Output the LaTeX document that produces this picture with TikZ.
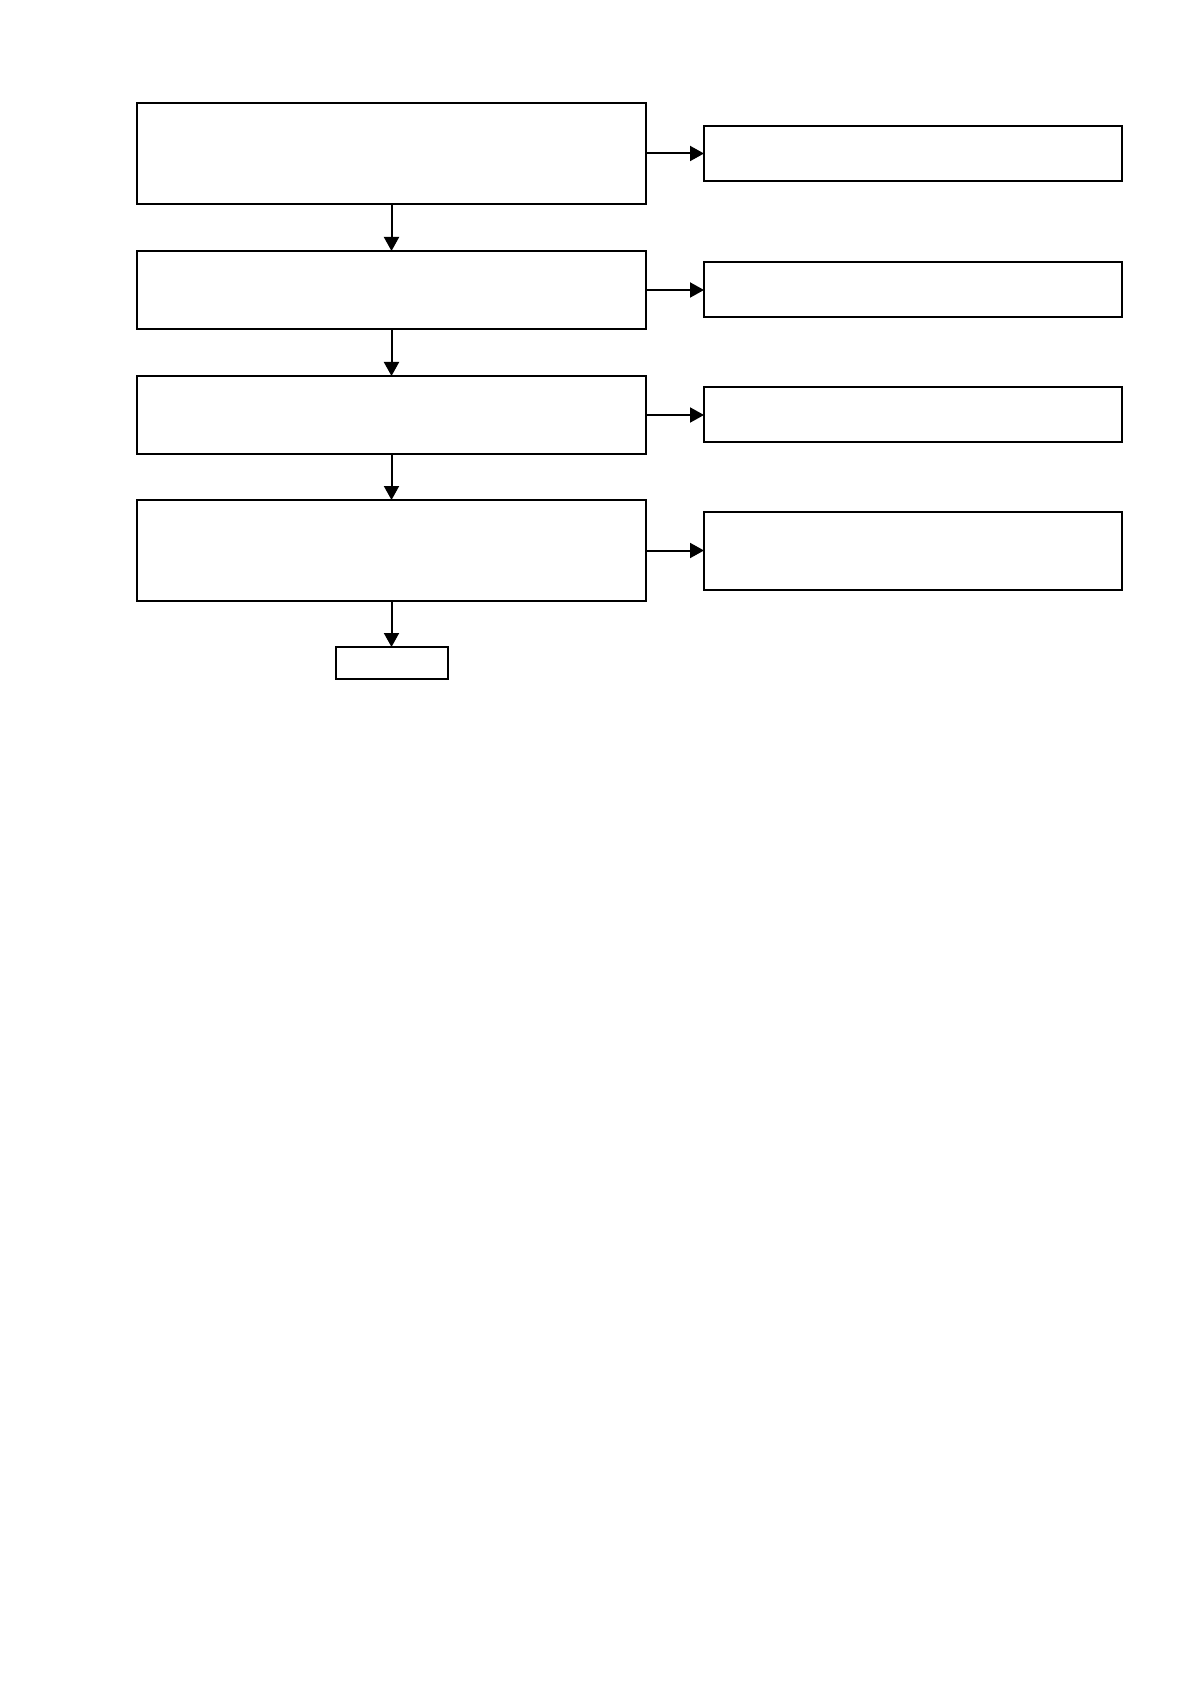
\documentclass[tikz,border=0pt]{standalone}
\usetikzlibrary{arrows.meta}
\begin{document}
\begin{tikzpicture}[x=0.5pt,y=-0.5pt,
  box/.style={draw=black,line width=1pt,rectangle,inner sep=0pt,outer sep=0pt,fill=white},
  mainbox/.style={box,minimum width=254.5pt},
  sidebox/.style={box,minimum width=209pt},
  flow/.style={draw=black,line width=1pt,-{Triangle[length=7pt,width=7.5pt]}}]
\useasboundingbox (0,0) rectangle (1191,1684);
\node[mainbox,minimum height=50.5pt] (b1) at (391.5,153.5) {};
\node[mainbox,minimum height=39pt] (b2) at (391.5,290) {};
\node[mainbox,minimum height=39pt] (b3) at (391.5,415) {};
\node[mainbox,minimum height=50.5pt] (b4) at (391.5,550.5) {};
\node[box,minimum width=56pt,minimum height=16pt] (e) at (391.5,663) {};
\node[sidebox,minimum height=27.5pt] (r1) at (913,153.5) {};
\node[sidebox,minimum height=27.5pt] (r2) at (913,290) {};
\node[sidebox,minimum height=27.5pt] (r3) at (913,415) {};
\node[sidebox,minimum height=39pt] (r4) at (913,550.5) {};
\draw[flow] (b1) -- (b2);
\draw[flow] (b2) -- (b3);
\draw[flow] (b3) -- (b4);
\draw[flow] (b4) -- (e);
\draw[flow] (b1) -- (r1);
\draw[flow] (b2) -- (r2);
\draw[flow] (b3) -- (r3);
\draw[flow] (b4) -- (r4);
\end{tikzpicture}
\end{document}
